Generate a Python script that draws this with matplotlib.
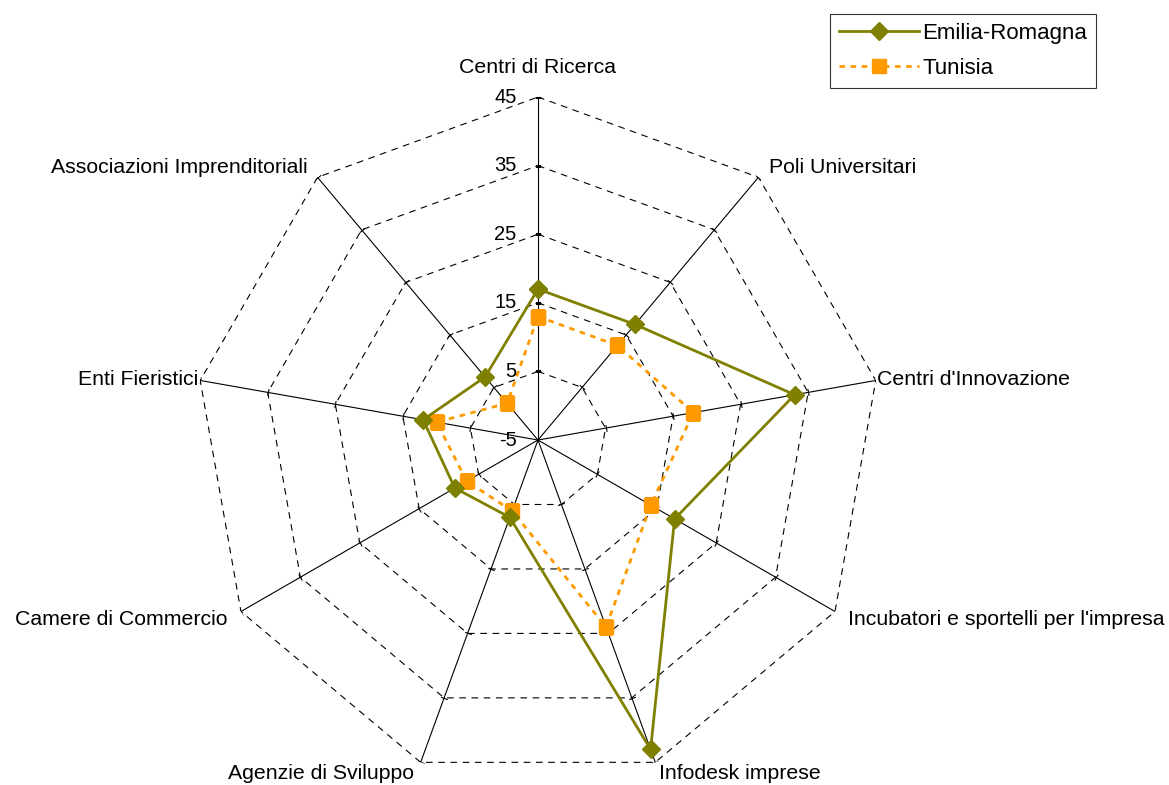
import numpy as np
import matplotlib.pyplot as plt

plt.rcParams['font.family'] = ['Liberation Sans', 'DejaVu Sans']

categories = ["Centri di Ricerca", "Poli Universitari", "Centri d'Innovazione",
              "Incubatori e sportelli per l'impresa", "Infodesk imprese",
              "Agenzie di Sviluppo", "Camere di Commercio", "Enti Fieristici",
              "Associazioni Imprenditoriali"]
emilia = [17, 17, 33, 18, 43, 7, 9, 12, 7]
tunisia = [13, 13, 18, 14, 24, 6, 7, 10, 2]
ticks = [-5, 5, 15, 25, 35, 45]

n = len(categories)
theta = np.linspace(0, 2 * np.pi, n, endpoint=False)
theta_c = np.append(theta, theta[0])

fig = plt.figure(figsize=(11.69, 7.85), dpi=100)
ax = fig.add_axes([0.1668, 0.0025, 0.5868, 0.8739], projection='polar')
ax.set_theta_offset(np.pi / 2)
ax.set_theta_direction(-1)
ax.set_ylim(-5, 45)
ax.grid(False)
ax.spines['polar'].set_visible(False)
ax.set_xticks([])
ax.set_yticks([])
ax.patch.set_alpha(0)

# polygon gridlines
for r in ticks[1:]:
    ax.plot(theta_c, [r] * (n + 1), color='k', lw=0.8, ls=(0, (6, 5)), zorder=1)

# spokes + tick marks
for i, t in enumerate(theta):
    ax.plot([t, t], [-5, 45], color='k', lw=0.8, zorder=1)
    ang = 90 - np.degrees(t)
    ax.plot([t] * (len(ticks) - 1), ticks[1:], ls='none', marker=(2, 0, ang),
            ms=5, mec='k', mew=0.8, zorder=1)

# value labels on top axis
for r in ticks:
    ax.annotate(str(r), (0, r), xytext=(-15.5, 0), textcoords='offset points',
                ha='right', va='center', fontsize=14.5)

# category labels
offsets = [(0, 21, 'center'), (7.6, 7.2, 'left'), (1, 1, 'left'),
           (9.4, -5.4, 'left'), (2.9, -7.9, 'left'), (-4.8, -7.9, 'right'),
           (-9.4, -5.4, 'right'), (-1.4, 0.7, 'right'), (-6.8, 7.2, 'right')]
for t, lab, (dx, dy, ha) in zip(theta, categories, offsets):
    ax.annotate(lab, (t, 45), xytext=(dx, dy), textcoords='offset points',
                ha=ha, va='center', fontsize=15.3, annotation_clip=False)

ax.plot(theta_c, emilia + emilia[:1], color='#808000', lw=2, marker='D',
        ms=9.5, label='Emilia-Romagna', zorder=3)
ax.plot(theta_c, tunisia + tunisia[:1], color='#FF9900', lw=2, ls=(0, (2, 2)),
        marker='s', ms=10.5, label='Tunisia', zorder=2)

leg = fig.legend(loc='upper right', bbox_to_anchor=(0.9376, 0.982),
                 fontsize=16, frameon=True, fancybox=False, edgecolor='k',
                 handlelength=3.6, borderpad=0.4, labelspacing=0.62,
                 handletextpad=0.15, borderaxespad=0)
leg.get_frame().set_linewidth(0.8)

fig.savefig('out.png', dpi=100)
